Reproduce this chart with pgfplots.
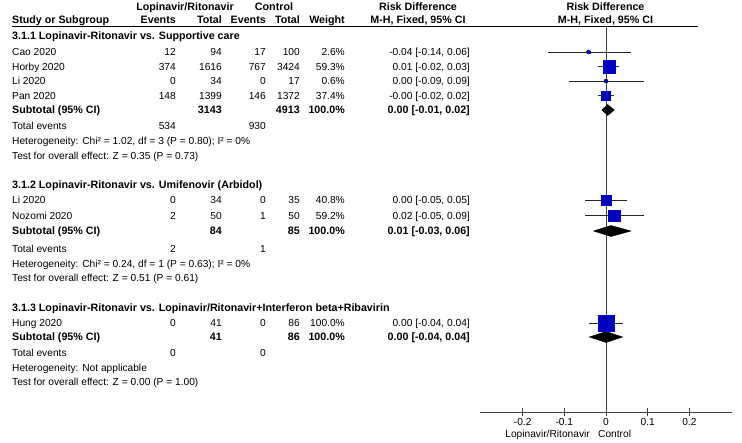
\documentclass[border=0pt]{standalone}
\usepackage{fontspec}
\setmainfont{Liberation Sans}
\usepackage{pgfplots}
\usepackage{pgfplotstable}
\pgfplotsset{compat=1.18}
\definecolor{sqblue}{RGB}{0,0,190}
\definecolor{lgray}{RGB}{60,60,60}

% study rows: y = -(pixel row), est, CI, half side of square
\pgfplotstableread{
y      est     lo     hi    ms
-52    -0.042  -0.14  0.06  1.3
-66.5   0.007  -0.02  0.03  6.2
-81     0.000  -0.09  0.09  0.8
-95.5  -0.001  -0.02  0.02  4.6
-200    0.000  -0.05  0.05  4.8
-215.5  0.020  -0.05  0.09  5.8
-323    0.000  -0.04  0.04  8.2
}\studies

\newcommand{\B}{\fontsize{10.7}{12}\selectfont\bfseries}
\newcommand{\Lt}[3]{\node[anchor=base west,inner sep=0pt] at (#1,#2+3.7) {#3};}
\newcommand{\Rt}[3]{\node[anchor=base east,inner sep=0pt] at (#1,#2+3.7) {#3};}
\newcommand{\Ct}[3]{\node[anchor=base,inner sep=0pt] at (#1,#2+3.7) {#3};}
% column right edges
\def\EA{176}\def\TA{222}\def\EB{266}\def\TB{300}\def\W{345}\def\CI{470}

\begin{document}
\begin{tikzpicture}[x=1pt,y=-1pt,font=\fontsize{10.2}{12}\selectfont]
\useasboundingbox (0,0) rectangle (742,442);

% header
\Ct{185}{7}{\B Lopinavir/Ritonavir}
\Ct{274}{7}{\B Control}
\Ct{418}{7}{\B Risk Difference}
\Ct{605.5}{7}{\B Risk Difference}
\Lt{12}{20}{\B Study or Subgroup}
\Rt{\EA}{20}{\B Events}
\Rt{\TA}{20}{\B Total}
\Rt{\EB}{20}{\B Events}
\Rt{\TB}{20}{\B Total}
\Rt{\W}{20}{\B Weight}
\Ct{418}{20}{\B M-H, Fixed, 95\% CI}
\Ct{605.5}{20}{\B M-H, Fixed, 95\% CI}
\draw[line width=0.8pt] (12,26.5) -- (698,26.5);

% group 1
\Lt{12}{36}{\B 3.1.1 Lopinavir-Ritonavir vs. Supportive care}
\Lt{12}{52}{Cao 2020}\Rt{\EA}{52}{12}\Rt{\TA}{52}{94}\Rt{\EB}{52}{17}\Rt{\TB}{52}{100}\Rt{\W}{52}{2.6\%}\Rt{\CI}{52}{-0.04 [-0.14, 0.06]}
\Lt{12}{66.5}{Horby 2020}\Rt{\EA}{66.5}{374}\Rt{\TA}{66.5}{1616}\Rt{\EB}{66.5}{767}\Rt{\TB}{66.5}{3424}\Rt{\W}{66.5}{59.3\%}\Rt{\CI}{66.5}{0.01 [-0.02, 0.03]}
\Lt{12}{81}{Li 2020}\Rt{\EA}{81}{0}\Rt{\TA}{81}{34}\Rt{\EB}{81}{0}\Rt{\TB}{81}{17}\Rt{\W}{81}{0.6\%}\Rt{\CI}{81}{0.00 [-0.09, 0.09]}
\Lt{12}{95.5}{Pan 2020}\Rt{\EA}{95.5}{148}\Rt{\TA}{95.5}{1399}\Rt{\EB}{95.5}{146}\Rt{\TB}{95.5}{1372}\Rt{\W}{95.5}{37.4\%}\Rt{\CI}{95.5}{-0.00 [-0.02, 0.02]}
\Lt{12}{110}{\B Subtotal (95\% CI)}\Rt{\TA}{110}{\B 3143}\Rt{\TB}{110}{\B 4913}\Rt{\W}{110}{\B 100.0\%}\Rt{\CI}{110}{\B 0.00 [-0.01, 0.02]}
\Lt{12}{125.5}{Total events}\Rt{\EA}{125.5}{534}\Rt{\EB}{125.5}{930}
\Lt{12}{140.5}{Heterogeneity: Chi² = 1.02, df = 3 (P = 0.80); I² = 0\%}
\Lt{12}{155.5}{Test for overall effect: Z = 0.35 (P = 0.73)}

% group 2
\Lt{12}{185}{\B 3.1.2 Lopinavir-Ritonavir vs. Umifenovir (Arbidol)}
\Lt{12}{200}{Li 2020}\Rt{\EA}{200}{0}\Rt{\TA}{200}{34}\Rt{\EB}{200}{0}\Rt{\TB}{200}{35}\Rt{\W}{200}{40.8\%}\Rt{\CI}{200}{0.00 [-0.05, 0.05]}
\Lt{12}{215.5}{Nozomi 2020}\Rt{\EA}{215.5}{2}\Rt{\TA}{215.5}{50}\Rt{\EB}{215.5}{1}\Rt{\TB}{215.5}{50}\Rt{\W}{215.5}{59.2\%}\Rt{\CI}{215.5}{0.02 [-0.05, 0.09]}
\Lt{12}{231}{\B Subtotal (95\% CI)}\Rt{\TA}{231}{\B 84}\Rt{\TB}{231}{\B 85}\Rt{\W}{231}{\B 100.0\%}\Rt{\CI}{231}{\B 0.01 [-0.03, 0.06]}
\Lt{12}{249}{Total events}\Rt{\EA}{249}{2}\Rt{\EB}{249}{1}
\Lt{12}{263.5}{Heterogeneity: Chi² = 0.24, df = 1 (P = 0.63); I² = 0\%}
\Lt{12}{278}{Test for overall effect: Z = 0.51 (P = 0.61)}

% group 3
\Lt{12}{308}{\B 3.1.3 Lopinavir-Ritonavir vs. Lopinavir/Ritonavir+Interferon beta+Ribavirin}
\Lt{12}{323}{Hung 2020}\Rt{\EA}{323}{0}\Rt{\TA}{323}{41}\Rt{\EB}{323}{0}\Rt{\TB}{323}{86}\Rt{\W}{323}{100.0\%}\Rt{\CI}{323}{0.00 [-0.04, 0.04]}
\Lt{12}{337}{\B Subtotal (95\% CI)}\Rt{\TA}{337}{\B 41}\Rt{\TB}{337}{\B 86}\Rt{\W}{337}{\B 100.0\%}\Rt{\CI}{337}{\B 0.00 [-0.04, 0.04]}
\Lt{12}{352.5}{Total events}\Rt{\EA}{352.5}{0}\Rt{\EB}{352.5}{0}
\Lt{12}{367.5}{Heterogeneity: Not applicable}
\Lt{12}{382}{Test for overall effect: Z = 0.00 (P = 1.00)}

% favours labels
\Rt{590}{434}{Lopinavir/Ritonavir}
\Lt{598}{434}{Control}

\begin{axis}[
  at={(480pt,-412pt)}, anchor=south west,
  scale only axis, width=252pt, height=385.5pt,
  xmin=-0.3024, xmax=0.3024, ymin=-412, ymax=-26.5,
  axis x line*=bottom, axis y line=none,
  x axis line style={-, draw=lgray, line width=0.8pt},
  xtick={-0.2,-0.1,0,0.1,0.2}, xticklabels={-0.2,-0.1,0,0.1,0.2},
  tick align=center, major tick length=8pt,
  tick style={draw=lgray, line width=0.8pt},
  xticklabel style={font=\fontsize{10.2}{12}\selectfont, anchor=base, inner sep=0pt, yshift=-9.3pt},
  clip=false,
]
\addplot[lgray, line width=0.8pt] coordinates {(0,-26.5) (0,-412)};
\addplot[only marks, mark=none, error bars/.cd, x dir=both, x explicit, error mark=none,
  error bar style={line width=0.8pt, black!85}]
  table[x=est, y=y, x error plus expr=\thisrow{hi}-\thisrow{est}, x error minus expr=\thisrow{est}-\thisrow{lo}] {\studies};
\addplot[only marks, scatter, mark=square*,
  scatter/use mapped color={draw=sqblue, fill=sqblue},
  visualization depends on={\thisrow{ms} \as \ms},
  scatter/@pre marker code/.append style={/tikz/mark size=\ms}]
  table[x=est, y=y] {\studies};
% subtotal diamonds
\addplot[fill=black, draw=black, line width=0.4pt] coordinates {(-0.01,-110) (0.004,-104.5) (0.02,-110) (0.004,-115.5)} -- cycle;
\addplot[fill=black, draw=black, line width=0.4pt] coordinates {(-0.03,-231) (0.012,-225.5) (0.06,-231) (0.012,-236.5)} -- cycle;
\addplot[fill=black, draw=black, line width=0.4pt] coordinates {(-0.04,-337) (0.0,-331.5) (0.04,-337) (0.0,-342.5)} -- cycle;
\end{axis}
\end{tikzpicture}
\end{document}
